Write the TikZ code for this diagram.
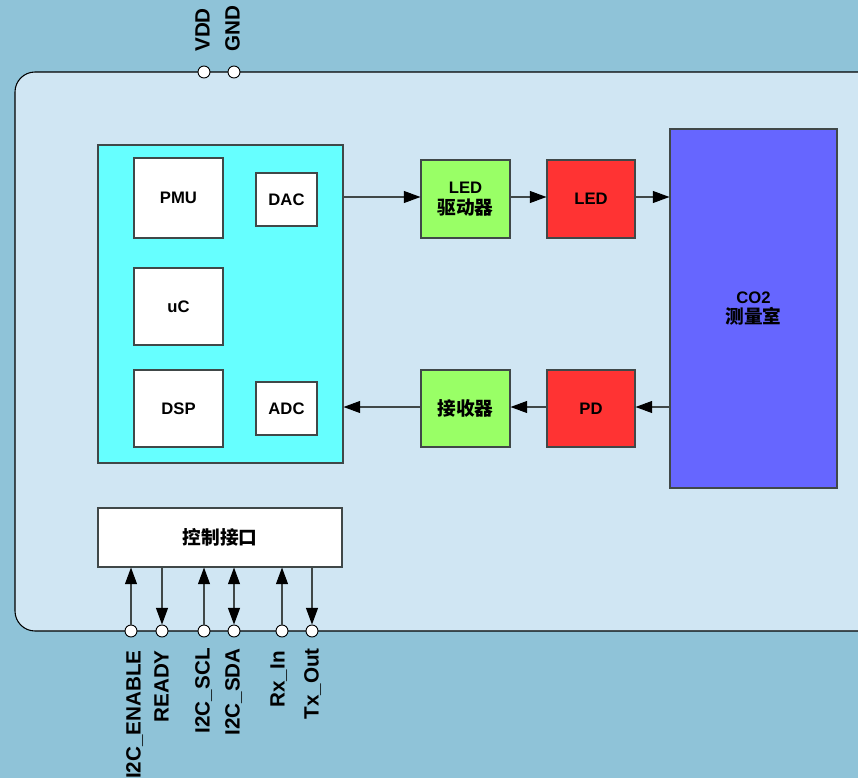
\documentclass[tikz,border=0pt]{standalone}
\usepackage{fontspec}
\setmainfont{Liberation Sans}
\newfontfamily\cjk[Scale=1.12]{Noto Sans CJK SC}
\usetikzlibrary{arrows.meta}
\definecolor{bgc}{HTML}{8FC3D8}
\definecolor{panel}{HTML}{D0E6F3}
\definecolor{cyanbox}{HTML}{66FFFF}
\definecolor{greenbox}{HTML}{99FF66}
\definecolor{redbox}{HTML}{FF3333}
\definecolor{bluebox}{HTML}{6666FF}
\definecolor{edge}{HTML}{404848}
\tikzset{
  blk/.style={draw=edge, line width=0.8pt, font=\bfseries\fontsize{12.5}{15.5}\selectfont, align=center, inner sep=0pt},
  tip/.tip={Triangle[length=12.5pt,width=9pt,fill=black,color=black]},
  conn/.style={draw=edge, line width=0.8pt, -tip},
  pin/.style={circle, draw=black, fill=white, line width=0.7pt, minimum size=9pt, inner sep=0pt},
  plabel/.style={rotate=90, font=\bfseries\fontsize{15.5}{18}\selectfont, inner sep=0pt}
}
\begin{document}
\begin{tikzpicture}[x=0.75pt,y=-0.75pt]
\useasboundingbox (0,0) rectangle (858,778);
\fill[bgc] (0,0) rectangle (858,778);
\draw[fill=panel, draw=black, line width=0.8pt, rounded corners=15pt] (15,72) rectangle (878,631);
% blocks
\node[blk, fill=cyanbox, minimum width=183.75pt, minimum height=238.5pt] (core) at (220.5,304) {};
\node[blk, fill=white, minimum width=66.75pt, minimum height=60pt] (pmu) at (178.5,198) {PMU};
\node[blk, fill=white, minimum width=45.75pt, minimum height=39.75pt] (dac) at (286.5,199.5) {DAC};
\node[blk, fill=white, minimum width=66.75pt, minimum height=57.75pt] (uc) at (178.5,306.5) {uC};
\node[blk, fill=white, minimum width=66.75pt, minimum height=57.75pt] (dsp) at (178.5,408.5) {DSP};
\node[blk, fill=white, minimum width=45.75pt, minimum height=39.75pt] (adc) at (286.5,408.5) {ADC};
\node[blk, fill=greenbox, minimum width=66.75pt, minimum height=58.5pt] (drv) at (465.5,199) {LED\\{\cjk\bfseries 驱动器}};
\node[blk, fill=redbox, minimum width=66pt, minimum height=58.5pt] (led) at (591,199) {LED};
\node[blk, fill=bluebox, minimum width=125.25pt, minimum height=269.25pt] (co2) at (753.5,308.5) {CO2\\{\cjk\bfseries 测量室}};
\node[blk, fill=greenbox, minimum width=66.75pt, minimum height=57.75pt] (rcv) at (465.5,408.5) {{\cjk\bfseries 接收器}};
\node[blk, fill=redbox, minimum width=66pt, minimum height=57.75pt] (pd) at (591,408.5) {PD};
\node[blk, fill=white, minimum width=183pt, minimum height=44.25pt] (ctl) at (220,537.5) {{\cjk\bfseries 控制接口}};
% horizontal connectors
\draw[conn] (core.east |- 0,197) -- (drv.west |- 0,197);
\draw[conn] (drv.east |- 0,197) -- (led.west |- 0,197);
\draw[conn] (led.east |- 0,197) -- (co2.west |- 0,197);
\draw[conn] (co2.west |- 0,407) -- (pd.east |- 0,407);
\draw[conn] (pd.west |- 0,407) -- (rcv.east |- 0,407);
\draw[conn] (rcv.west |- 0,407) -- (core.east |- 0,407);
% top pins
\node[pin] (vdd) at (204,72) {};
\node[pin] (gnd) at (234,72) {};
\node[plabel, anchor=mid west] at (206,52) {VDD};
\node[plabel, anchor=mid west] at (236,52) {GND};
% bottom pins
\node[pin] (p1) at (131,631) {};
\node[pin] (p2) at (162,631) {};
\node[pin] (p3) at (204,631) {};
\node[pin] (p4) at (234,631) {};
\node[pin] (p5) at (282,631) {};
\node[pin] (p6) at (312,631) {};
\draw[conn] (p1) -- (p1 |- ctl.south);
\draw[conn] (p2 |- ctl.south) -- (p2);
\draw[conn] (p3) -- (p3 |- ctl.south);
\draw[conn, tip-tip] (p4) -- (p4 |- ctl.south);
\draw[conn] (p5) -- (p5 |- ctl.south);
\draw[conn] (p6 |- ctl.south) -- (p6);
\node[plabel, anchor=mid east] at (137,650) {I2C\_ENABLE};
\node[plabel, anchor=mid east] at (165,650) {READY};
\node[plabel, anchor=mid east] at (206,648) {I2C\_SCL};
\node[plabel, anchor=mid east] at (236,648) {I2C\_SDA};
\node[plabel, anchor=mid east] at (281,651) {Rx\_In};
\node[plabel, anchor=mid east] at (315,648) {Tx\_Out};
\end{tikzpicture}
\end{document}
